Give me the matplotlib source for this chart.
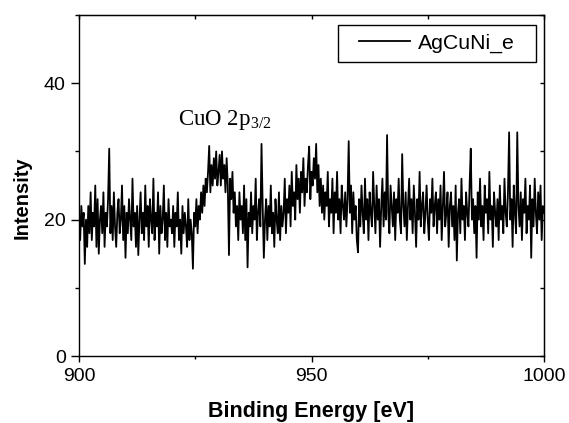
#!/usr/bin/env python3
"""XPS survey window around Cu 2p3/2 for sample AgCuNi_e."""

import numpy as np
import matplotlib
matplotlib.use('Agg')
import matplotlib.pyplot as plt
from matplotlib.patches import Rectangle
from matplotlib.ticker import MultipleLocator

# Energy grid of the scan (eV)
E_START = 900.0
E_STOP = 1000.0

# Intensity, 0.25 eV steps, one row per 10 eV
intensity_900 = [21, 17, 22, 19, 21, 13.5, 20, 16, 22, 18,
                 24, 17, 21, 19, 25, 16, 23, 15, 20, 22,
                 18, 24, 16, 21, 19, 23, 30.4, 18, 22, 17,
                 24, 19, 16, 21, 23, 18, 20, 25, 17, 22]
intensity_910 = [14.4, 21, 18, 23, 20, 17, 26, 19, 21, 16,
                 22, 14.8, 20, 24, 18, 21, 17, 25, 19, 22,
                 16, 23, 20, 18, 26, 17, 21, 19, 24, 15,
                 22, 18, 20, 25, 17, 21, 16, 23, 19, 20]
intensity_920 = [18, 22, 16, 21, 19, 24, 17, 20, 15, 22,
                 18, 21, 19, 16, 23, 17, 20, 18, 12.8, 21,
                 19, 23, 18, 22, 20, 24, 21, 25, 22, 26,
                 24, 27, 30.8, 24, 28, 25, 29, 26, 30, 25]
intensity_930 = [27, 29.5, 25, 30, 26, 28, 24, 29, 25, 14.8,
                 26, 23, 27, 21, 24, 19, 22, 17, 24, 20,
                 22, 18, 25, 17, 23, 13.0, 21, 19, 24, 18,
                 22, 20, 26, 17, 21, 23, 19, 31.1, 22, 14.4]
intensity_940 = [20, 23, 17, 22, 19, 25, 18, 21, 16, 23,
                 20, 18, 24, 17, 22, 19, 21, 26, 18, 23,
                 21, 25, 19, 27, 22, 24, 20, 28, 23, 26,
                 21, 27, 24, 29, 22, 26, 24, 28, 30.7, 23]
intensity_950 = [27, 25, 29, 26, 31.1, 24, 28, 22, 26, 21,
                 25, 20, 24, 22, 27, 19, 23, 21, 26, 18,
                 24, 21, 27, 20, 23, 18, 25, 22, 20, 24,
                 19, 23, 31.5, 21, 25, 18, 24, 20, 22, 17]
intensity_960 = [15.2, 23, 19, 25, 21, 18, 26, 20, 23, 17,
                 24, 21, 19, 27, 22, 18, 25, 20, 23, 16,
                 22, 26, 19, 24, 20, 32.4, 21, 18, 25, 22,
                 19, 24, 17, 23, 21, 26, 20, 18, 29.6, 22]
intensity_970 = [19, 24, 17, 22, 26, 20, 23, 18, 25, 21,
                 16, 23, 20, 27, 19, 22, 24, 18, 21, 25,
                 20, 17, 23, 21, 26, 19, 22, 24, 18, 23,
                 20, 25, 17, 22, 27, 19, 21, 24, 16, 22]
intensity_980 = [24, 19, 22, 17, 25, 14.0, 21, 23, 18, 26,
                 20, 22, 17, 24, 21, 19, 25, 30.4, 20, 23,
                 18, 22, 14.4, 24, 20, 26, 19, 22, 17, 25,
                 21, 23, 18, 27, 20, 22, 16, 24, 21, 19]
intensity_990 = [23, 17, 25, 20, 22, 18, 26, 21, 19, 24,
                 32.8, 20, 23, 16, 25, 21, 18, 32.8, 22, 19,
                 24, 17, 23, 21, 26, 18, 22, 20, 25, 14.4,
                 23, 19, 26, 21, 18, 24, 20, 25, 17, 22,
                 21]

intensity = np.array(intensity_900 + intensity_910 + intensity_920 + intensity_930
                     + intensity_940 + intensity_950 + intensity_960 + intensity_970
                     + intensity_980 + intensity_990)
energy = np.linspace(E_START, E_STOP, len(intensity))

plt.rcParams['font.family'] = ['Liberation Sans', 'DejaVu Sans']

fig = plt.figure(figsize=(5.69, 4.23), dpi=100)
ax = fig.add_axes([79 / 569, 1 - 356 / 423, (544 - 79) / 569, (356 - 15) / 423])

ax.plot(energy, intensity, color='black', linewidth=1.3, label='AgCuNi_e')

ax.set_xlim(900, 1000)
ax.set_ylim(0, 50)
ax.xaxis.set_major_locator(MultipleLocator(50))
ax.xaxis.set_minor_locator(MultipleLocator(25))
ax.yaxis.set_major_locator(MultipleLocator(20))
ax.yaxis.set_minor_locator(MultipleLocator(10))

ax.tick_params(which='both', direction='out', top=False, right=False, labelsize=14, width=1)
ax.tick_params(axis='y', which='major', length=5.5, pad=4)
ax.tick_params(axis='y', which='minor', length=3)
ax.tick_params(axis='x', which='major', length=4, pad=4.5)
ax.tick_params(axis='x', which='minor', length=2.5)

# inward ticks on the mirrored axes
sec_x = ax.secondary_xaxis('top')
sec_x.xaxis.set_major_locator(MultipleLocator(50))
sec_x.xaxis.set_minor_locator(MultipleLocator(25))
sec_x.tick_params(which='both', direction='in', labeltop=False, length=3, width=1)
sec_y = ax.secondary_yaxis('right')
sec_y.yaxis.set_major_locator(MultipleLocator(20))
sec_y.yaxis.set_minor_locator(MultipleLocator(10))
sec_y.tick_params(which='both', direction='in', labelright=False, length=3, width=1)

for side in ['left', 'right', 'top', 'bottom']:
    ax.spines[side].set_linewidth(1)

ax.set_xlabel('Binding Energy [eV]', fontsize=15.5, fontweight='bold', labelpad=11.5)
ax.set_ylabel('Intensity', fontsize=14.5, fontweight='bold', labelpad=9)
ax.yaxis.label.set_y(0.463)

ax.text(921.3, 33.8, r'CuO 2p$_{\mathregular{3/2}}$', fontsize=16.5,
        family=['Liberation Serif', 'DejaVu Serif'], ha='left', va='baseline')

# legend: frameless entry inside a hand-placed box (wider side padding)
box = Rectangle((0.557, 0.862), 0.426, 0.109, transform=ax.transAxes,
                facecolor='white', edgecolor='black', linewidth=1, zorder=4)
ax.add_patch(box)
leg = ax.legend(loc='center', bbox_to_anchor=(0.770, 0.9165), fontsize=15.3,
                frameon=False, handlelength=2.4, handletextpad=0.37,
                borderpad=0, borderaxespad=0)
leg.set_zorder(5)

fig.savefig('out.png', dpi=100, facecolor='white')
